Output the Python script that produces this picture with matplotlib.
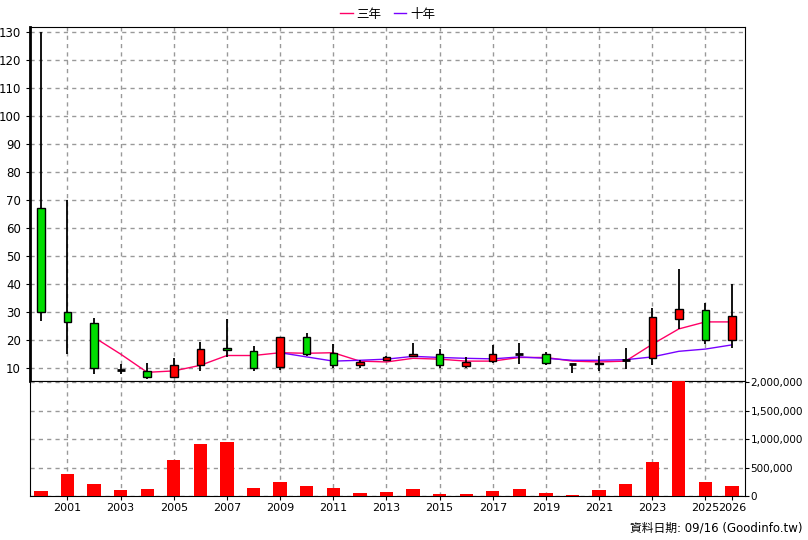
import numpy as np
import matplotlib.pyplot as plt

plt.rcParams['font.family'] = ['DejaVu Sans', 'Noto Sans CJK TC']

years = list(range(2000, 2027))
opens = [67, 30, 26, 9.5, 9, 7, 11, 17.3, 16, 10.3, 21, 15.5, 11, 13, 14.3, 15.2, 10.8, 12.6, 15.0, 14.9, 11.5, 11.3, 12.9, 13.5, 27.7, 30.6, 19.9]
highs = [130, 70, 28, 11.5, 12, 13.5, 19.5, 27.5, 18, 21, 22.5, 18.5, 13, 14.5, 18.8, 16.8, 13.8, 18.1, 18.9, 15.7, 11.5, 14.5, 17.1, 31.4, 45.4, 33.1, 39.9]
lows = [27, 15, 8, 8, 6, 6.5, 9, 14, 9, 9.5, 14.5, 10, 10, 12.5, 13.8, 9.9, 10.1, 11.9, 11.5, 11.2, 8.3, 9.0, 9.8, 11.1, 23.8, 18.6, 17.1]
closes = [30, 26.5, 10, 9.5, 7, 11, 17, 16.5, 10, 21, 15, 11, 12.3, 14, 15.2, 11.0, 12.1, 15.2, 15.0, 11.9, 11.5, 12.0, 12.9, 28.1, 31.0, 19.9, 28.5]
volumes = [90e3, 390e3, 210e3, 105e3, 120e3, 630e3, 910e3, 950e3, 140e3, 245e3, 175e3, 140e3, 55e3, 70e3, 120e3, 40e3, 40e3, 90e3, 120e3, 55e3, 20e3, 105e3, 210e3, 600e3, 2050e3, 245e3, 175e3]

ma3_years = list(range(2002, 2027))
ma3 = [21, 15, 8.5, 9, 11, 14.5, 14.5, 15.5, 15.3, 15.5, 12.5, 12.2, 13.5, 13.2, 12.5, 12.5, 13.8, 13.8, 12.5, 12.2, 12.5, 18.5, 24.0, 26.5, 26.5]
ma10_years = list(range(2009, 2027))
ma10 = [15.5, 14.0, 12.5, 12.8, 13.2, 14.2, 13.8, 13.5, 13.3, 14.0, 13.5, 12.8, 12.8, 13.0, 14.0, 16.0, 16.8, 18.3]

fig = plt.figure(figsize=(8.08, 5.4), dpi=100)
W, H = 808, 540
ax = fig.add_axes([30 / W, 1 - 381 / H, 715 / W, 354 / H])
axv = fig.add_axes([30 / W, 1 - 496 / H, 715 / W, 115 / H], sharex=ax)

for y, o, h, l, c in zip(years, opens, highs, lows, closes):
    ax.vlines(y, l, h, color='black', lw=1.3, zorder=3)
    if abs(c - o) < 0.3:
        ax.hlines(c, y - 0.15, y + 0.15, color='black', lw=2, zorder=4)
    else:
        col = 'red' if c > o else '#00dd00'
        ax.bar(y, abs(c - o), bottom=min(o, c), width=0.28, color=col,
               edgecolor='black', lw=1, zorder=4)

ax.plot(ma3_years, ma3, color='#ff0066', lw=1, label='三年', zorder=2)
ax.plot(ma10_years, ma10, color='#7700ff', lw=1, label='十年', zorder=2)

ax.set_xlim(1999.59, 2026.49)
ax.set_ylim(5.4, 131.8)
ax.set_yticks(range(10, 131, 10))
ax.tick_params(axis='x', length=0, labelbottom=False)
ax.tick_params(axis='y', labelsize=8.5, length=3)
ax.yaxis.grid(True, ls=(0, (3, 3)), color='#999999', lw=1)
ax.legend(loc='lower center', bbox_to_anchor=(0.5, 1.0), ncol=2, frameon=False,
          fontsize=9, handlelength=1, handletextpad=0.3, columnspacing=1, borderaxespad=0.1)
ax.spines['left'].set_linewidth(2)
for x in range(2001, 2026, 2):
    ax.axvline(x, ls=(0, (3, 3)), color='#999999', lw=1, zorder=1)

axv.bar(years, volumes, width=0.5, color='red', zorder=3)
axv.set_ylim(0, 2.02e6)
axv.yaxis.tick_right()
axv.set_yticks([0, 5e5, 1e6, 1.5e6, 2e6])
axv.set_yticklabels(['0', '500,000', '1,000,000', '1,500,000', '2,000,000'])
axv.set_xticks([2001, 2003, 2005, 2007, 2009, 2011, 2013, 2015, 2017, 2019, 2021, 2023, 2025, 2026])
axv.set_xticklabels(['2001', '2003', '2005', '2007', '2009', '2011', '2013', '2015', '2017', '2019', '2021', '2023', '2025', '2026'])
axv.tick_params(axis='x', labelsize=8, length=3, pad=2)
axv.tick_params(axis='y', labelsize=7.5, length=3, pad=1)
axv.yaxis.grid(True, ls=(0, (3, 3)), color='#999999', lw=1)
for x in range(2001, 2026, 2):
    axv.axvline(x, ls=(0, (3, 3)), color='#999999', lw=1, zorder=1)

fig.text(803 / W, 1 - 528 / H, '資料日期: 09/16 (Goodinfo.tw)', ha='right', va='center', fontsize=8.5)

fig.savefig('out.png')
